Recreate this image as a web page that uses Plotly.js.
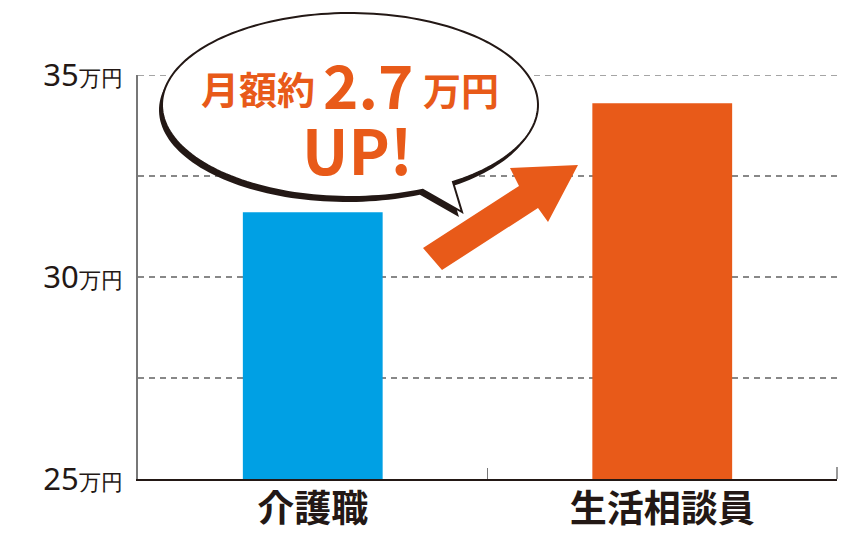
<!DOCTYPE html>
<html>
<head>
<meta charset="utf-8">
<script src="https://cdn.plot.ly/plotly-3.0.1.min.js"></script>
<style>
  html, body { margin: 0; padding: 0; background: #fff; }
  #chart { width: 860px; height: 550px; }
</style>
</head>
<body>
<div id="chart"></div>
<script>
// monthly salary, 万円
let categories = ['介護職', '生活相談員'];
let salaries = [31.6, 34.3];
let barColors = ['#00a0e4', '#e85a19'];

let yTickVals = [25, 27.5, 30, 32.5, 35];
let yTickText = ['25', '', '30', '', '35'];
let yUnit = '万円';
let yMax = 35;

let calloutLine1 = ['月額約', '2.7', '万円'];
let calloutLine2 = 'UP!';

// plot box in page pixels, used to place the callout decorations
let X0 = 138, X1 = 837, Y0 = 479, Y1 = 75;
function px(x) { return (x - X0) / (X1 - X0); }
function py(y) { return (Y0 - y) / (Y0 - Y1); }

function pathFrom(points, dx, dy) {
  return points.map((p, i) => (i ? 'L' : 'M') + px(p[0] + dx) + ',' + py(p[1] + dy)).join(' ') + ' Z';
}

// speech bubble: ellipse outline with a tail between two angles
function bubblePoints() {
  let cx = 350, cy = 105, rx = 188, ry = 92;
  let a0 = 67.2, a1 = 56.8 + 360;
  let pts = [];
  for (let a = a0; a <= a1; a += 2) {
    let t = a * Math.PI / 180;
    pts.push([cx + rx * Math.cos(t), cy + ry * Math.sin(t)]);
  }
  let t = a1 * Math.PI / 180;
  pts.push([cx + rx * Math.cos(t), cy + ry * Math.sin(t)]);
  pts.push([462, 212]);
  return pts;
}

let bubble = bubblePoints();
let arrowPts = [[423, 248], [519, 186], [510, 168], [578, 165], [548, 222], [538, 208], [442, 270]];

let orange = '#e85a19';
let ink = '#231815';

let trace = {
  type: 'bar',
  x: categories,
  y: salaries.map(v => v - 25),
  base: 25,
  marker: { color: barColors, line: { width: 0 } },
  width: 0.4,
  hoverinfo: 'skip'
};

let layout = {
  width: 860,
  height: 550,
  margin: { l: X0, r: 860 - X1, t: Y1, b: 550 - Y0 },
  paper_bgcolor: '#fff',
  plot_bgcolor: '#fff',
  showlegend: false,
  xaxis: {
    type: 'category',
    range: [-0.5, 1.5],
    showline: true,
    linecolor: ink,
    linewidth: 2,
    ticks: 'inside',
    tickson: 'boundaries',
    ticklen: 11,
    tickcolor: '#777',
    tickwidth: 1.5,
    showgrid: false,
    ticklabelstandoff: -3,
    tickfont: { family: '"Noto Sans CJK JP", sans-serif', size: 37, color: ink, weight: 'bold' }
  },
  yaxis: {
    range: [25, yMax],
    tickvals: yTickVals,
    ticktext: yTickText.map(t => t ? t + '<span style="font-size:22px">' + yUnit + '</span>' : ''),
    showline: true,
    linecolor: '#777',
    linewidth: 2,
    ticks: '',
    ticklabelstandoff: 7,
    showgrid: true,
    gridcolor: '#888',
    gridwidth: 1.5,
    griddash: '6px,5px',
    zeroline: false,
    tickfont: { family: '"Noto Sans", sans-serif', size: 31, color: ink }
  },
  shapes: [
    // top gridline sits on the plot edge, draw it explicitly
    { type: 'line', xref: 'paper', yref: 'y', x0: 0, x1: 1, y0: yMax, y1: yMax, layer: 'below',
      line: { color: '#888', width: 1.5, dash: '6px,5px' } },
    // end tick of the category axis
    { type: 'line', xref: 'paper', yref: 'paper', x0: 1, x1: 1, y0: 0, y1: py(Y0 - 12),
      line: { color: '#777', width: 1.5 } },
    { type: 'path', xref: 'paper', yref: 'paper', layer: 'above',
      path: pathFrom(bubble, -3, 5), fillcolor: ink, line: { width: 0 } },
    { type: 'path', xref: 'paper', yref: 'paper', layer: 'above',
      path: pathFrom(bubble, 0, 0), fillcolor: '#fff', line: { color: ink, width: 2 } },
    { type: 'path', xref: 'paper', yref: 'paper', layer: 'above',
      path: pathFrom(arrowPts, 0, 0), fillcolor: orange, line: { width: 0 } }
  ],
  annotations: [
    { text: calloutLine1[0], x: px(258), y: py(87), size: 38 },
    { text: calloutLine1[1], x: px(368), y: py(82), size: 60 },
    { text: calloutLine1[2], x: px(461), y: py(88), size: 38 },
    { text: calloutLine2, x: px(357), y: py(148), size: 62 }
  ].map(a => ({
    text: a.text, x: a.x, y: a.y, xref: 'paper', yref: 'paper',
    xanchor: 'center', yanchor: 'middle', showarrow: false,
    font: { family: '"Noto Sans CJK JP", sans-serif', size: a.size, color: orange, weight: 'bold' }
  }))
};

Plotly.newPlot('chart', [trace], layout, { displayModeBar: false, staticPlot: true });
</script>
</body>
</html>
